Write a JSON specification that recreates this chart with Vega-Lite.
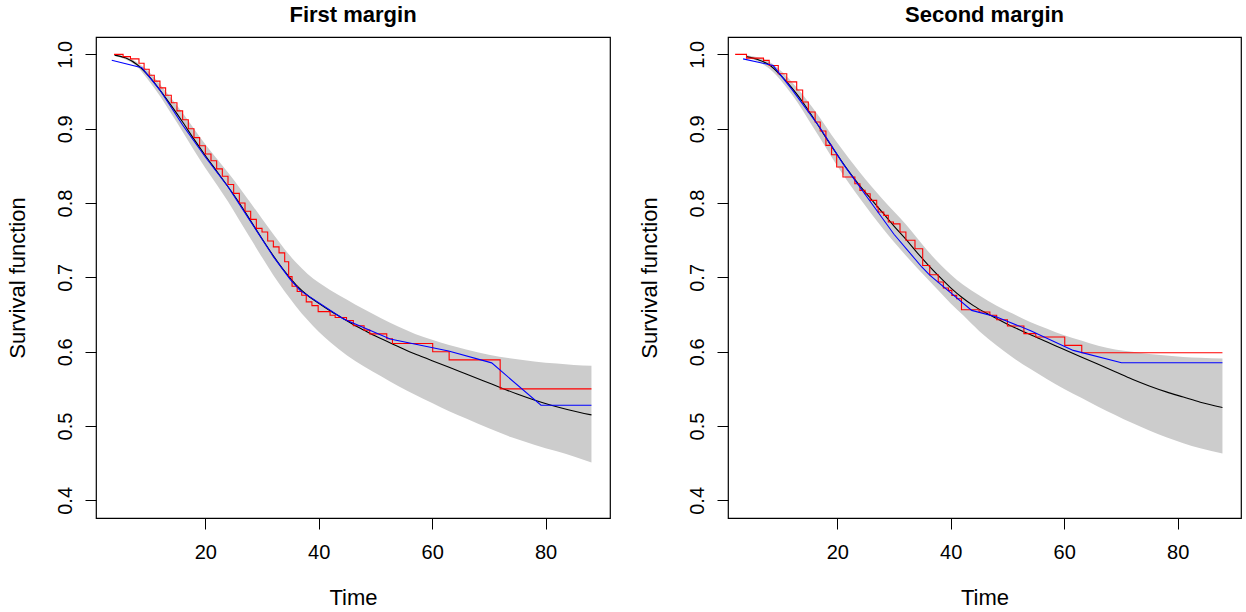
{
  "$schema": "https://vega.github.io/schema/vega-lite/v6.json",
  "autosize": {"type": "pad"},
  "padding": {"left": 5, "top": 3, "right": 0, "bottom": 0},
  "bounds": "flush",
  "spacing": 118,
  "background": "white",
  "config": {
    "view": {"stroke": "black", "strokeWidth": 1.2},
    "font": "Liberation Sans",
    "axis": {
      "domain": false, "grid": false,
      "tickColor": "black", "tickSize": 11, "tickWidth": 1,
      "labelFont": "Liberation Sans", "labelFontSize": 20, "labelColor": "black",
      "titleFont": "Liberation Sans", "titleFontSize": 22, "titleFontWeight": "normal", "titleColor": "black"
    },
    "axisX": {"labelBaseline": "alphabetic", "labelPadding": 29, "titleBaseline": "alphabetic", "titleY": 86},
    "axisY": {"labelAngle": -90, "labelAlign": "center", "labelBaseline": "alphabetic", "labelPadding": 14, "titleBaseline": "alphabetic", "titleX": -72, "titleAngle": -90}
  },
  "datasets": {
    "ci1": [
      {"t": 4, "lo": 0.998, "hi": 1.0}, {"t": 6, "lo": 0.993, "hi": 0.997}, {"t": 8, "lo": 0.983, "hi": 0.989},
      {"t": 10, "lo": 0.965, "hi": 0.977}, {"t": 12, "lo": 0.944, "hi": 0.96}, {"t": 14, "lo": 0.92, "hi": 0.941},
      {"t": 16, "lo": 0.896, "hi": 0.921}, {"t": 18, "lo": 0.871, "hi": 0.9}, {"t": 20, "lo": 0.847, "hi": 0.879},
      {"t": 22, "lo": 0.825, "hi": 0.86}, {"t": 24, "lo": 0.802, "hi": 0.841}, {"t": 26, "lo": 0.777, "hi": 0.821},
      {"t": 28, "lo": 0.752, "hi": 0.8}, {"t": 30, "lo": 0.727, "hi": 0.779}, {"t": 32, "lo": 0.703, "hi": 0.758},
      {"t": 34, "lo": 0.681, "hi": 0.738}, {"t": 36, "lo": 0.661, "hi": 0.72}, {"t": 38, "lo": 0.643, "hi": 0.705},
      {"t": 40, "lo": 0.627, "hi": 0.693}, {"t": 42, "lo": 0.613, "hi": 0.683}, {"t": 45, "lo": 0.595, "hi": 0.67},
      {"t": 48, "lo": 0.58, "hi": 0.657}, {"t": 51, "lo": 0.567, "hi": 0.645}, {"t": 54, "lo": 0.554, "hi": 0.634},
      {"t": 57, "lo": 0.542, "hi": 0.624}, {"t": 60, "lo": 0.531, "hi": 0.616}, {"t": 63, "lo": 0.52, "hi": 0.609},
      {"t": 66, "lo": 0.51, "hi": 0.603}, {"t": 70, "lo": 0.497, "hi": 0.596}, {"t": 74, "lo": 0.485, "hi": 0.591},
      {"t": 78, "lo": 0.475, "hi": 0.587}, {"t": 82, "lo": 0.466, "hi": 0.584}, {"t": 85, "lo": 0.459, "hi": 0.582},
      {"t": 88.1, "lo": 0.451, "hi": 0.581}
    ],
    "b1": [
      {"t": 4, "s": 0.999}, {"t": 6, "s": 0.995}, {"t": 8, "s": 0.986}, {"t": 10, "s": 0.971}, {"t": 12, "s": 0.952},
      {"t": 14, "s": 0.931}, {"t": 16, "s": 0.909}, {"t": 18, "s": 0.886}, {"t": 20, "s": 0.864}, {"t": 22, "s": 0.843},
      {"t": 24, "s": 0.822}, {"t": 26, "s": 0.8}, {"t": 28, "s": 0.776}, {"t": 30, "s": 0.752}, {"t": 32, "s": 0.729},
      {"t": 34, "s": 0.708}, {"t": 36, "s": 0.69}, {"t": 38, "s": 0.676}, {"t": 40, "s": 0.665}, {"t": 42, "s": 0.655},
      {"t": 44, "s": 0.646}, {"t": 46, "s": 0.637}, {"t": 48, "s": 0.629}, {"t": 50, "s": 0.621}, {"t": 52, "s": 0.614},
      {"t": 54, "s": 0.607}, {"t": 56, "s": 0.6}, {"t": 58, "s": 0.594}, {"t": 60, "s": 0.588}, {"t": 63, "s": 0.579},
      {"t": 66, "s": 0.57}, {"t": 69, "s": 0.561}, {"t": 72, "s": 0.552}, {"t": 75, "s": 0.543}, {"t": 78, "s": 0.535},
      {"t": 81, "s": 0.528}, {"t": 84, "s": 0.522}, {"t": 88.1, "s": 0.515}
    ],
    "km1": [
      {"t": 3.9, "s": 1.0}, {"t": 5.5, "s": 0.997}, {"t": 6.8, "s": 0.994}, {"t": 8.3, "s": 0.988}, {"t": 9.2, "s": 0.98},
      {"t": 10.1, "s": 0.972}, {"t": 11, "s": 0.964}, {"t": 12, "s": 0.955}, {"t": 13, "s": 0.945}, {"t": 14, "s": 0.935},
      {"t": 15, "s": 0.924}, {"t": 16, "s": 0.912}, {"t": 17, "s": 0.9}, {"t": 18, "s": 0.888}, {"t": 19, "s": 0.877},
      {"t": 20, "s": 0.866}, {"t": 21, "s": 0.857}, {"t": 22, "s": 0.846}, {"t": 23, "s": 0.836}, {"t": 24, "s": 0.825},
      {"t": 25, "s": 0.813}, {"t": 26, "s": 0.8}, {"t": 27, "s": 0.789}, {"t": 28, "s": 0.778}, {"t": 29, "s": 0.766},
      {"t": 30, "s": 0.761}, {"t": 31, "s": 0.749}, {"t": 32, "s": 0.741}, {"t": 33, "s": 0.733}, {"t": 34, "s": 0.721},
      {"t": 34.7, "s": 0.701}, {"t": 35.3, "s": 0.688}, {"t": 36.2, "s": 0.681}, {"t": 37, "s": 0.676}, {"t": 37.8, "s": 0.667},
      {"t": 38.8, "s": 0.662}, {"t": 39.9, "s": 0.654}, {"t": 42, "s": 0.649}, {"t": 42.9, "s": 0.646}, {"t": 44.9, "s": 0.642},
      {"t": 46.1, "s": 0.635}, {"t": 48, "s": 0.629}, {"t": 49, "s": 0.624}, {"t": 52, "s": 0.6175}, {"t": 53, "s": 0.611},
      {"t": 60.1, "s": 0.6}, {"t": 63, "s": 0.589}, {"t": 72, "s": 0.55}, {"t": 88.1, "s": 0.55}
    ],
    "bl1": [
      {"t": 3.5, "s": 0.992}, {"t": 8.8, "s": 0.982}, {"t": 12, "s": 0.952}, {"t": 16, "s": 0.905}, {"t": 20, "s": 0.862},
      {"t": 24, "s": 0.822}, {"t": 28, "s": 0.775}, {"t": 32, "s": 0.728}, {"t": 35, "s": 0.697}, {"t": 36.7, "s": 0.6825},
      {"t": 44.3, "s": 0.6444}, {"t": 52.6, "s": 0.617}, {"t": 62.9, "s": 0.601}, {"t": 70.5, "s": 0.585},
      {"t": 79.2, "s": 0.528}, {"t": 88.1, "s": 0.528}
    ],
    "ci2": [
      {"t": 4, "lo": 0.996, "hi": 0.999}, {"t": 8, "lo": 0.981, "hi": 0.99}, {"t": 12, "lo": 0.946, "hi": 0.963},
      {"t": 16, "lo": 0.899, "hi": 0.925}, {"t": 20, "lo": 0.85, "hi": 0.881}, {"t": 24, "lo": 0.806, "hi": 0.841},
      {"t": 28, "lo": 0.766, "hi": 0.805}, {"t": 32, "lo": 0.73, "hi": 0.772}, {"t": 36, "lo": 0.697, "hi": 0.735},
      {"t": 40, "lo": 0.665, "hi": 0.704}, {"t": 42.2, "lo": 0.649, "hi": 0.69}, {"t": 45, "lo": 0.628, "hi": 0.676},
      {"t": 48.1, "lo": 0.6085, "hi": 0.662}, {"t": 51, "lo": 0.592, "hi": 0.651}, {"t": 54, "lo": 0.577, "hi": 0.64},
      {"t": 57, "lo": 0.563, "hi": 0.631}, {"t": 60, "lo": 0.55, "hi": 0.622}, {"t": 63, "lo": 0.538, "hi": 0.615},
      {"t": 66, "lo": 0.526, "hi": 0.608}, {"t": 69, "lo": 0.515, "hi": 0.603}, {"t": 72, "lo": 0.504, "hi": 0.6},
      {"t": 75, "lo": 0.494, "hi": 0.597}, {"t": 78, "lo": 0.485, "hi": 0.595}, {"t": 81, "lo": 0.477, "hi": 0.593},
      {"t": 84, "lo": 0.47, "hi": 0.592}, {"t": 87.9, "lo": 0.463, "hi": 0.591}
    ],
    "b2": [
      {"t": 4, "s": 0.997}, {"t": 6, "s": 0.993}, {"t": 8, "s": 0.986}, {"t": 10, "s": 0.972}, {"t": 12, "s": 0.955},
      {"t": 14, "s": 0.935}, {"t": 16, "s": 0.912}, {"t": 18, "s": 0.888}, {"t": 20, "s": 0.865}, {"t": 22, "s": 0.843},
      {"t": 24, "s": 0.823}, {"t": 26, "s": 0.805}, {"t": 28, "s": 0.787}, {"t": 30, "s": 0.769}, {"t": 32, "s": 0.752},
      {"t": 34, "s": 0.734}, {"t": 36, "s": 0.717}, {"t": 38, "s": 0.701}, {"t": 40, "s": 0.686}, {"t": 42, "s": 0.673},
      {"t": 44, "s": 0.662}, {"t": 46, "s": 0.653}, {"t": 48, "s": 0.645}, {"t": 50, "s": 0.637}, {"t": 52, "s": 0.63},
      {"t": 54, "s": 0.623}, {"t": 57, "s": 0.613}, {"t": 60, "s": 0.603}, {"t": 63, "s": 0.593}, {"t": 66, "s": 0.583},
      {"t": 69, "s": 0.573}, {"t": 72, "s": 0.563}, {"t": 75, "s": 0.554}, {"t": 78, "s": 0.546}, {"t": 81, "s": 0.539},
      {"t": 84, "s": 0.532}, {"t": 87.9, "s": 0.525}
    ],
    "km2": [
      {"t": 2.0, "s": 1.0}, {"t": 4.0, "s": 0.995}, {"t": 7.0, "s": 0.992}, {"t": 8.0, "s": 0.985}, {"t": 9.6, "s": 0.974},
      {"t": 11.1, "s": 0.963}, {"t": 12.85, "s": 0.952}, {"t": 13.9, "s": 0.936}, {"t": 14.9, "s": 0.9225}, {"t": 16.1, "s": 0.909},
      {"t": 17.0, "s": 0.897}, {"t": 18.0, "s": 0.8776}, {"t": 19.0, "s": 0.865}, {"t": 19.9, "s": 0.8485}, {"t": 21.0, "s": 0.835},
      {"t": 23.1, "s": 0.826}, {"t": 24.0, "s": 0.817}, {"t": 24.9, "s": 0.8126}, {"t": 25.8, "s": 0.8036}, {"t": 26.95, "s": 0.7947},
      {"t": 27.2, "s": 0.788}, {"t": 28.2, "s": 0.7834}, {"t": 29.0, "s": 0.7745}, {"t": 29.9, "s": 0.772}, {"t": 31.06, "s": 0.761},
      {"t": 32.1, "s": 0.75}, {"t": 33.7, "s": 0.7386}, {"t": 35.06, "s": 0.716}, {"t": 36.3, "s": 0.7036}, {"t": 37.8, "s": 0.6938},
      {"t": 38.7, "s": 0.6857}, {"t": 39.6, "s": 0.6825}, {"t": 40.2, "s": 0.6758}, {"t": 41.05, "s": 0.6713}, {"t": 41.9, "s": 0.6565},
      {"t": 45.0, "s": 0.6534}, {"t": 46.9, "s": 0.649}, {"t": 48.1, "s": 0.643}, {"t": 50.0, "s": 0.6346}, {"t": 52.9, "s": 0.6243},
      {"t": 55.0, "s": 0.6198}, {"t": 60.1, "s": 0.6085}, {"t": 63.1, "s": 0.5987}, {"t": 87.9, "s": 0.5987}
    ],
    "bl2": [
      {"t": 3.4, "s": 0.994}, {"t": 8.7, "s": 0.985}, {"t": 12, "s": 0.953}, {"t": 16.9, "s": 0.902}, {"t": 21, "s": 0.853},
      {"t": 26.3, "s": 0.797}, {"t": 30, "s": 0.758}, {"t": 34.9, "s": 0.714}, {"t": 36.3, "s": 0.703}, {"t": 43.7, "s": 0.6556},
      {"t": 48.1, "s": 0.6467}, {"t": 54.0, "s": 0.6287}, {"t": 61.6, "s": 0.6018}, {"t": 70.1, "s": 0.5852}, {"t": 87.9, "s": 0.5852}
    ]
  },
  "hconcat": [
    {
      "width": 514, "height": 481,
      "title": {"text": "First margin", "font": "Liberation Sans", "fontSize": 22, "fontWeight": "bold", "color": "black", "anchor": "middle", "frame": "group", "baseline": "alphabetic", "offset": -7},
      "layer": [
        {"data": {"name": "ci1"}, "mark": {"type": "area", "color": "#CCCCCC", "opacity": 1, "interpolate": "monotone"},
         "encoding": {
           "x": {"field": "t", "type": "quantitative", "title": "Time", "scale": {"domain": [0.72, 91.37], "nice": false, "zero": false}, "axis": {"values": [20, 40, 60, 80]}},
           "y": {"field": "lo", "type": "quantitative", "title": "Survival function", "scale": {"domain": [0.3763, 1.0234], "nice": false, "zero": false}, "axis": {"values": [0.4, 0.5, 0.6, 0.7, 0.8, 0.9, 1.0], "format": ".1f"}},
           "y2": {"field": "hi"}}},
        {"data": {"name": "b1"}, "mark": {"type": "line", "color": "black", "strokeWidth": 1.1, "interpolate": "monotone"},
         "encoding": {"x": {"field": "t", "type": "quantitative", "title": "Time"}, "y": {"field": "s", "type": "quantitative", "title": "Survival function"}}},
        {"data": {"name": "km1"}, "mark": {"type": "line", "color": "#FF0000", "strokeWidth": 1.1, "interpolate": "step-after"},
         "encoding": {"x": {"field": "t", "type": "quantitative", "title": "Time"}, "y": {"field": "s", "type": "quantitative", "title": "Survival function"}}},
        {"data": {"name": "bl1"}, "mark": {"type": "line", "color": "#0000FF", "strokeWidth": 1.1},
         "encoding": {"x": {"field": "t", "type": "quantitative", "title": "Time"}, "y": {"field": "s", "type": "quantitative", "title": "Survival function"}}}
      ]
    },
    {
      "width": 513, "height": 481,
      "title": {"text": "Second margin", "font": "Liberation Sans", "fontSize": 22, "fontWeight": "bold", "color": "black", "anchor": "middle", "frame": "group", "baseline": "alphabetic", "offset": -7},
      "layer": [
        {"data": {"name": "ci2"}, "mark": {"type": "area", "color": "#CCCCCC", "opacity": 1, "interpolate": "monotone"},
         "encoding": {
           "x": {"field": "t", "type": "quantitative", "title": "Time", "scale": {"domain": [0.74, 91.17], "nice": false, "zero": false}, "axis": {"values": [20, 40, 60, 80]}},
           "y": {"field": "lo", "type": "quantitative", "title": "Survival function", "scale": {"domain": [0.3763, 1.0234], "nice": false, "zero": false}, "axis": {"values": [0.4, 0.5, 0.6, 0.7, 0.8, 0.9, 1.0], "format": ".1f"}},
           "y2": {"field": "hi"}}},
        {"data": {"name": "b2"}, "mark": {"type": "line", "color": "black", "strokeWidth": 1.1, "interpolate": "monotone"},
         "encoding": {"x": {"field": "t", "type": "quantitative", "title": "Time"}, "y": {"field": "s", "type": "quantitative", "title": "Survival function"}}},
        {"data": {"name": "km2"}, "mark": {"type": "line", "color": "#FF0000", "strokeWidth": 1.1, "interpolate": "step-after"},
         "encoding": {"x": {"field": "t", "type": "quantitative", "title": "Time"}, "y": {"field": "s", "type": "quantitative", "title": "Survival function"}}},
        {"data": {"name": "bl2"}, "mark": {"type": "line", "color": "#0000FF", "strokeWidth": 1.1},
         "encoding": {"x": {"field": "t", "type": "quantitative", "title": "Time"}, "y": {"field": "s", "type": "quantitative", "title": "Survival function"}}}
      ]
    }
  ]
}
